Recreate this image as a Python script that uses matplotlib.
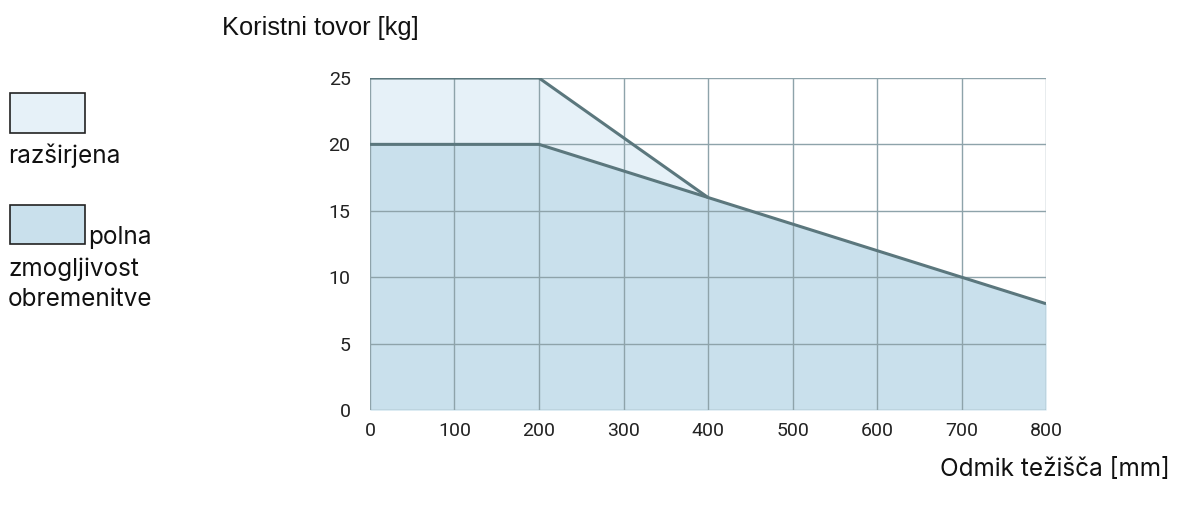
import matplotlib
matplotlib.use("Agg")
import matplotlib.pyplot as plt
from matplotlib.patches import Rectangle

# offset of centre of gravity [mm] vs. payload [kg]
x_ext = [0, 200, 400]
y_ext = [25, 25, 16]
x_full = [0, 200, 400, 700, 800]
y_full = [20, 20, 16, 10, 8]
xticks = [0, 100, 200, 300, 400, 500, 600, 700, 800]
yticks = [0, 5, 10, 15, 20, 25]

C_EXT = "#e6f1f8"
C_FULL = "#c9e0ec"
C_LINE = "#5b777d"
C_GRID = "#8ea3aa"
TXT = 17.5

fig = plt.figure(figsize=(11.82, 5.13), dpi=100)
ax = fig.add_axes([0.313, 0.2008, 0.572, 0.6472])

ax.fill_between(x_ext, y_ext, color=C_EXT, lw=0, zorder=1)
ax.fill_between(x_full, y_full, color=C_FULL, lw=0, zorder=1)
ax.plot(x_ext, y_ext, color=C_LINE, lw=2.2, zorder=3, solid_capstyle="butt")
ax.plot(x_full, y_full, color=C_LINE, lw=2.2, zorder=3, solid_capstyle="butt")

ax.set_xlim(0, 800)
ax.set_ylim(0, 25)
ax.set_xticks(xticks)
ax.set_yticks(yticks)
ax.grid(True, color=C_GRID, lw=1.0, zorder=2)
ax.set_axisbelow(False)
for s in ax.spines.values():
    s.set_visible(False)
ax.tick_params(length=0, labelsize=14)
ax.tick_params(axis="x", pad=9)
ax.tick_params(axis="y", pad=14)
for lab in ax.get_xticklabels() + ax.get_yticklabels():
    lab.set_family("Roboto")
    lab.set_color("#222222")

W, H = 1182, 513
fig.text(222 / W, 1 - 35 / H, "Koristni tovor [kg]", fontsize=18.3, family="Liberation Sans",
         va="baseline", ha="left", color="#111111")
fig.text(1170 / W, 1 - 476 / H, "Odmik težišča [mm]", fontsize=TXT, family="Inter",
         va="baseline", ha="right", color="#111111")

# legend drawn by hand
fig.patches.append(Rectangle((10 / W, 1 - 133 / H), 75 / W, 40 / H, transform=fig.transFigure,
                             facecolor=C_EXT, edgecolor="#222222", lw=1.2))
fig.patches.append(Rectangle((10 / W, 1 - 244 / H), 75 / W, 39 / H, transform=fig.transFigure,
                             facecolor=C_FULL, edgecolor="#222222", lw=1.2))
fig.text(8 / W, 1 - 163 / H, "razširjena", fontsize=TXT, family="Inter", va="baseline", color="#111111")
fig.text(88 / W, 1 - 244 / H, "polna", fontsize=TXT, family="Inter", va="baseline", color="#111111")
fig.text(8 / W, 1 - 276 / H, "zmogljivost", fontsize=TXT, family="Inter", va="baseline", color="#111111")
fig.text(8 / W, 1 - 306 / H, "obremenitve", fontsize=TXT, family="Inter", va="baseline", color="#111111")

fig.savefig("out.png", dpi=100)
